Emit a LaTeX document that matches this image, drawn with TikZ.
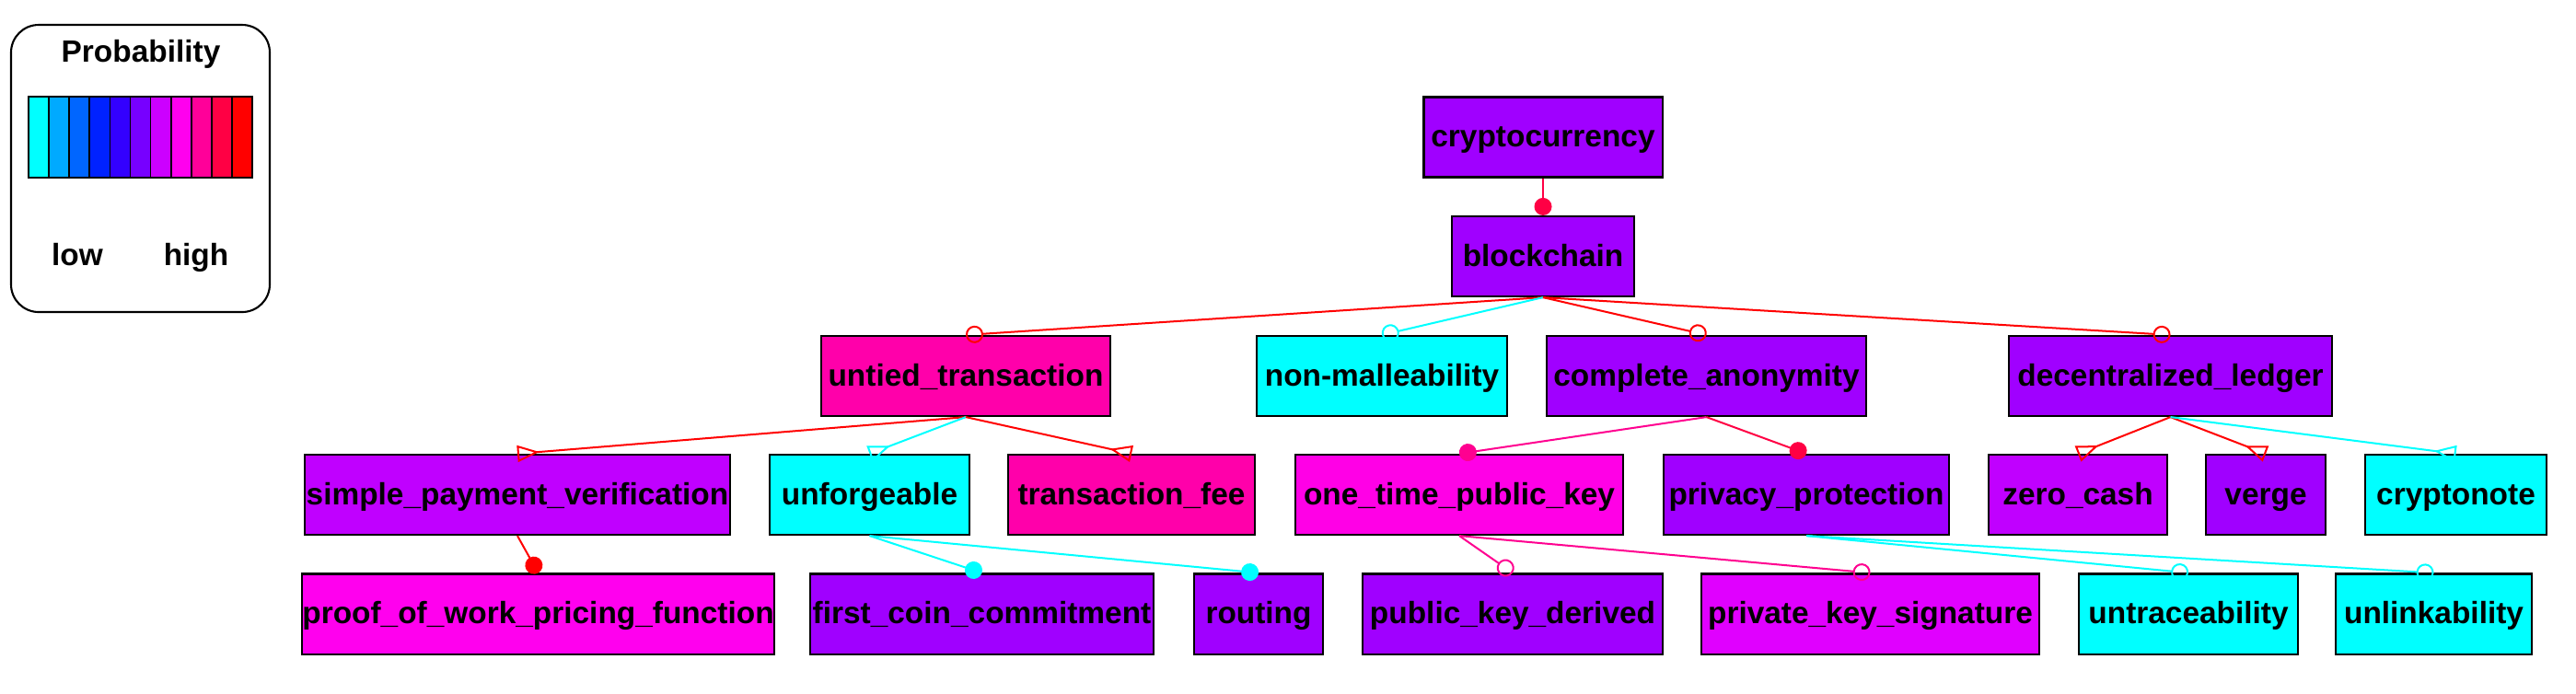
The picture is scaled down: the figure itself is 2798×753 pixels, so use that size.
\documentclass[tikz,border=0pt]{standalone}
\usepackage{fontspec}
\setmainfont{Liberation Sans}
\usetikzlibrary{arrows.meta}
\definecolor{prob0}{RGB}{0, 255, 255}
\definecolor{prob1}{RGB}{0, 170, 255}
\definecolor{prob2}{RGB}{0, 102, 255}
\definecolor{prob3}{RGB}{0, 34, 255}
\definecolor{prob4}{RGB}{51, 0, 255}
\definecolor{prob5}{RGB}{119, 0, 255}
\definecolor{prob6}{RGB}{204, 0, 255}
\definecolor{prob7}{RGB}{255, 0, 238}
\definecolor{prob8}{RGB}{255, 0, 153}
\definecolor{prob9}{RGB}{255, 0, 68}
\definecolor{prob10}{RGB}{255, 0, 0}
\definecolor{nodeviolet}{RGB}{160, 0, 255}
\definecolor{nodepurple}{RGB}{192, 0, 255}
\definecolor{nodeorchid}{RGB}{224, 0, 255}
\definecolor{nodemagenta}{RGB}{255, 0, 230}
\definecolor{nodepink}{RGB}{255, 0, 170}
\definecolor{edgepink}{RGB}{255, 0, 144}
\definecolor{edgerose}{RGB}{255, 0, 68}
\tikzset{
    feature/.style={draw, line width=.6pt, inner sep=0pt, minimum height=.87cm,
        text height=7.6pt, text depth=1.6pt,
        font=\fontsize{9.5}{11}\selectfont\bfseries},
    mandatory/.style={line width=.57pt, -{Circle[length=5.4pt, width=5.4pt]}},
    optional/.style={line width=.57pt,
        -{Circle[open, length=5.4pt, width=5.4pt]}},
    alternative/.style={line width=.57pt,
        -{Triangle[open, reversed, length=6.8pt, width=5.1pt]}},
    legendtext/.style={anchor=base, font=\fontsize{9.5}{11}\selectfont\bfseries},
}
\begin{document}
\begin{tikzpicture}[x=.01cm, y=-.01cm]
        \useasboundingbox (0, 0) rectangle (2798, 753);
        % legend
        \draw[line width=.6pt, rounded corners=.3cm] (12, 27) rectangle (293, 339);
        \node[legendtext] (probtitle) at (153, 67) {Probability};
        \foreach \i in {0,...,10}
            \draw[line width=.5pt, fill=prob\i] ({31+22.1*\i}, 105) rectangle ++(22.1, 88);
        \node[legendtext] (lowtext) at (84, 288) {low};
        \node[legendtext] (hightext) at (213, 288) {high};
        % features
        \node[feature, fill=nodeviolet, minimum width=2.59cm] (crypto) at (1676, 149)
            {cryptocurrency};
        \node[feature, fill=nodeviolet, minimum width=1.98cm] (chain) at (1676, 278.5)
            {blockchain};
        \node[feature, fill=nodepink, minimum width=3.14cm] (untied) at (1049, 408.5)
            {untied\_transaction};
        \node[feature, fill=prob0, minimum width=2.72cm] (nonmall) at (1501, 408.5)
            {non-malleability};
        \node[feature, fill=nodeviolet, minimum width=3.47cm] (anonym) at (1853.5, 408.5)
            {complete\_anonymity};
        \node[feature, fill=nodeviolet, minimum width=3.51cm] (ledger) at (2357.5, 408.5)
            {decentralized\_ledger};
        \node[feature, fill=nodepurple, minimum width=4.62cm] (spv) at (562, 537.5)
            {simple\_payment\_verification};
        \node[feature, fill=prob0, minimum width=2.17cm] (unforge) at (944.5, 537.5)
            {unforgeable};
        \node[feature, fill=nodepink, minimum width=2.68cm] (fee) at (1229, 537.5)
            {transaction\_fee};
        \node[feature, fill=nodemagenta, minimum width=3.56cm] (onetime) at (1585, 537.5)
            {one\_time\_public\_key};
        \node[feature, fill=nodeviolet, minimum width=3.10cm] (privacy) at (1962, 537.5)
            {privacy\_protection};
        \node[feature, fill=nodepurple, minimum width=1.94cm] (zerocash) at (2257, 537.5)
            {zero\_cash};
        \node[feature, fill=nodeviolet, minimum width=1.30cm] (verge) at (2461, 537.5)
            {verge};
        \node[feature, fill=prob0, minimum width=1.97cm] (cnote) at (2667.5, 537.5)
            {cryptonote};
        \node[feature, fill=prob7, minimum width=5.07cm] (pow) at (584.5, 667)
            {proof\_of\_work\_pricing\_function};
        \node[feature, fill=nodeviolet, minimum width=3.73cm] (firstcoin) at (1066.5, 667)
            {first\_coin\_commitment};
        \node[feature, fill=nodeviolet, minimum width=1.40cm] (routing) at (1367, 667)
            {routing};
        \node[feature, fill=nodeviolet, minimum width=3.26cm] (derived) at (1643, 667)
            {public\_key\_derived};
        \node[feature, fill=nodeorchid, minimum width=3.67cm] (signature) at (2031.5, 667)
            {private\_key\_signature};
        \node[feature, fill=prob0, minimum width=2.38cm] (untrace) at (2377, 667)
            {untraceability};
        \node[feature, fill=prob0, minimum width=2.13cm] (unlink) at (2643.5, 667)
            {unlinkability};
        % relations
        \draw[mandatory, edgerose] (crypto.south) -- (chain.north);
        \draw[optional, prob10] (chain.south) -- (untied.north);
        \draw[optional, prob0] (chain.south) -- (nonmall.north);
        \draw[optional, prob10] (chain.south) -- (anonym.north);
        \draw[optional, prob10] (chain.south) -- (ledger.north);
        \draw[alternative, prob10] (untied.south) -- (spv.north);
        \draw[alternative, prob0] (untied.south) -- (unforge.north);
        \draw[alternative, prob10] (untied.south) -- (fee.north);
        \draw[mandatory, edgepink] (anonym.south) -- (onetime.north);
        \draw[mandatory, edgerose] (anonym.south) -- (privacy.north);
        \draw[alternative, prob10] (ledger.south) -- (zerocash.north);
        \draw[alternative, prob10] (ledger.south) -- (verge.north);
        \draw[alternative, prob0] (ledger.south) -- (cnote.north);
        \draw[mandatory, prob10] (spv.south) -- (pow.north);
        \draw[mandatory, prob0] (unforge.south) -- (firstcoin.north);
        \draw[mandatory, prob0] (unforge.south) -- (routing.north);
        \draw[optional, edgepink] (onetime.south) -- (derived.north);
        \draw[optional, edgepink] (onetime.south) -- (signature.north);
        \draw[optional, prob0] (privacy.south) -- (untrace.north);
        \draw[optional, prob0] (privacy.south) -- (unlink.north);
    \end{tikzpicture}
\end{document}
